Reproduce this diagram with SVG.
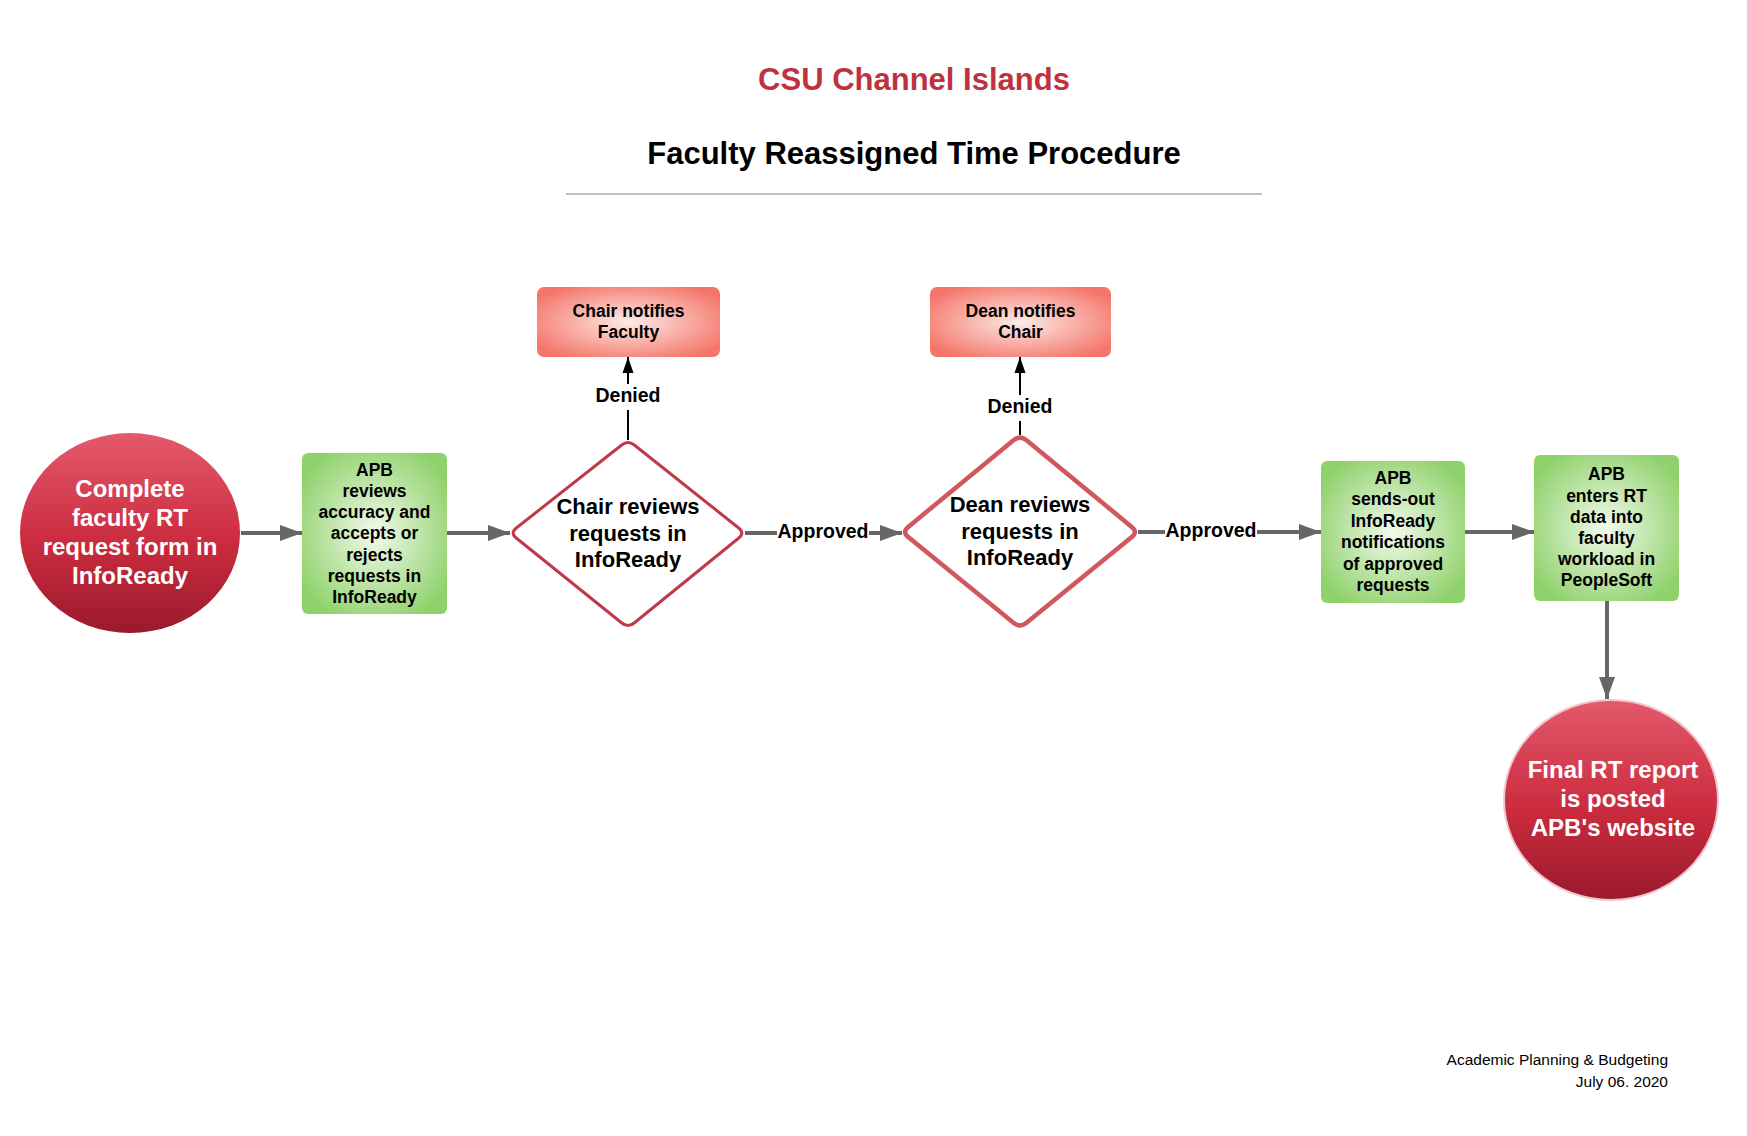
<svg xmlns="http://www.w3.org/2000/svg" width="1747" height="1136" viewBox="0 0 1747 1136">
<defs>
<style>
text{font-family:"Liberation Sans",Arial,sans-serif;}
.b{font-weight:bold;}
.wt{fill:#ffffff;font-weight:bold;font-size:24px;text-anchor:middle;}
.gt{fill:#000000;font-weight:bold;font-size:17.5px;text-anchor:middle;}
.dt{fill:#000000;font-weight:bold;font-size:22px;text-anchor:middle;}
.lbl{fill:#000000;font-weight:bold;font-size:19.5px;text-anchor:middle;}
.gbox{fill:url(#gGreen);}
.sbox{fill:url(#gSalmon);}
.conn{stroke:#666666;stroke-width:4;fill:none;}
.deny{stroke:#000000;stroke-width:2;fill:none;}
</style>
<linearGradient id="gRed" x1="0" y1="0" x2="0" y2="1">
<stop offset="0" stop-color="#e3596b"/>
<stop offset="0.55" stop-color="#cb2b3e"/>
<stop offset="1" stop-color="#991a2c"/>
</linearGradient>
<radialGradient id="gGreen" cx="0.5" cy="0.5" r="0.6">
<stop offset="0" stop-color="#f2faec"/>
<stop offset="1" stop-color="#8fd16b"/>
</radialGradient>
<radialGradient id="gSalmon" cx="0.5" cy="0.5" r="0.6">
<stop offset="0" stop-color="#fdebe7"/>
<stop offset="1" stop-color="#f4766a"/>
</radialGradient>
<marker id="aGrey" markerUnits="userSpaceOnUse" markerWidth="24" markerHeight="18" viewBox="0 0 24 18" refX="22" refY="9" orient="auto">
<path d="M0,1 L22,9 L0,17 Z" fill="#666666"/>
</marker>
<marker id="aBlack" markerUnits="userSpaceOnUse" markerWidth="18" markerHeight="14" viewBox="0 0 18 14" refX="16" refY="7" orient="auto">
<path d="M0,1.5 L16,7 L0,12.5 Z" fill="#000000"/>
</marker>
</defs>
<rect width="1747" height="1136" fill="#ffffff"/>

<g id="header">
<text x="914" y="90" class="b" font-size="31" fill="#c0313f" text-anchor="middle">CSU Channel Islands</text>
<text x="914" y="164" class="b" font-size="31" fill="#000000" text-anchor="middle">Faculty Reassigned Time Procedure</text>
<line x1="566" y1="194" x2="1262" y2="194" stroke="#aaaaaa" stroke-width="1.5"/>
</g>

<g id="connectors">
<line class="conn" x1="241" y1="533" x2="302" y2="533" marker-end="url(#aGrey)"/>
<line class="conn" x1="447" y1="533" x2="510" y2="533" marker-end="url(#aGrey)"/>
<line class="conn" x1="745" y1="533" x2="902" y2="533" marker-end="url(#aGrey)"/>
<line class="conn" x1="1138" y1="532" x2="1321" y2="532" marker-end="url(#aGrey)"/>
<line class="conn" x1="1465" y1="532" x2="1534" y2="532" marker-end="url(#aGrey)"/>
<line class="conn" x1="1607" y1="601" x2="1607" y2="699" marker-end="url(#aGrey)"/>
<line class="deny" x1="628" y1="440" x2="628" y2="357" marker-end="url(#aBlack)"/>
<line class="deny" x1="1020" y1="435" x2="1020" y2="357" marker-end="url(#aBlack)"/>
<rect x="596" y="384" width="64" height="26" fill="#ffffff"/>
<text class="lbl" x="628" y="402">Denied</text>
<rect x="988" y="395" width="64" height="26" fill="#ffffff"/>
<text class="lbl" x="1020" y="413">Denied</text>
<rect x="777" y="520" width="92" height="24" fill="#ffffff"/>
<text class="lbl" x="823" y="538">Approved</text>
<rect x="1165" y="519" width="92" height="24" fill="#ffffff"/>
<text class="lbl" x="1211" y="537">Approved</text>
</g>

<g id="start">
<ellipse cx="130" cy="533" rx="110" ry="100" fill="url(#gRed)"/>
<text class="wt" x="130" y="497">Complete</text>
<text class="wt" x="130" y="526">faculty RT</text>
<text class="wt" x="130" y="555">request form in</text>
<text class="wt" x="130" y="584">InfoReady</text>
</g>

<g id="apb-review">
<rect class="gbox" x="302" y="453" width="145" height="161" rx="6"/>
<text class="gt" x="374.5" y="475.5">APB</text>
<text class="gt" x="374.5" y="496.8">reviews</text>
<text class="gt" x="374.5" y="518.1">accuracy and</text>
<text class="gt" x="374.5" y="539.4">accepts or</text>
<text class="gt" x="374.5" y="560.7">rejects</text>
<text class="gt" x="374.5" y="582">requests in</text>
<text class="gt" x="374.5" y="603.3">InfoReady</text>
</g>

<g id="chair-review">
<path d="M634.3,445 L738.7,528 Q745,533 738.8,538 L634.2,623 Q628,628 621.8,623 L516.2,538 Q510,533 516.3,528 L621.7,445 Q628,440 634.3,445 Z" fill="#ffffff" stroke="#c0394a" stroke-width="3"/>
<text class="dt" x="628" y="514">Chair reviews</text>
<text class="dt" x="628" y="541">requests in</text>
<text class="dt" x="628" y="567">InfoReady</text>
</g>

<g id="chair-notifies">
<rect class="sbox" x="537" y="287" width="183" height="70" rx="7"/>
<text class="gt" x="628.5" y="317">Chair notifies</text>
<text class="gt" x="628.5" y="338">Faculty</text>
</g>

<g id="dean-review">
<path d="M1026.2,440.1 L1131.8,526.9 Q1138,532 1131.8,537 L1026.2,623 Q1020,628 1013.8,623 L908.2,537 Q902,532 908.2,526.9 L1013.8,440.1 Q1020,435 1026.2,440.1 Z" fill="#ffffff" stroke="#d0575c" stroke-width="4.5"/>
<text class="dt" x="1020" y="512">Dean reviews</text>
<text class="dt" x="1020" y="539">requests in</text>
<text class="dt" x="1020" y="565">InfoReady</text>
</g>

<g id="dean-notifies">
<rect class="sbox" x="930" y="287" width="181" height="70" rx="7"/>
<text class="gt" x="1020.5" y="317">Dean notifies</text>
<text class="gt" x="1020.5" y="338">Chair</text>
</g>

<g id="apb-notify">
<rect class="gbox" x="1321" y="461" width="144" height="142" rx="6"/>
<text class="gt" x="1393" y="483.5">APB</text>
<text class="gt" x="1393" y="505">sends-out</text>
<text class="gt" x="1393" y="526.5">InfoReady</text>
<text class="gt" x="1393" y="548">notifications</text>
<text class="gt" x="1393" y="569.5">of approved</text>
<text class="gt" x="1393" y="590.5">requests</text>
</g>

<g id="apb-enter">
<rect class="gbox" x="1534" y="455" width="145" height="146" rx="6"/>
<text class="gt" x="1606.5" y="480">APB</text>
<text class="gt" x="1606.5" y="501.5">enters RT</text>
<text class="gt" x="1606.5" y="522.5">data into</text>
<text class="gt" x="1606.5" y="543.5">faculty</text>
<text class="gt" x="1606.5" y="565">workload in</text>
<text class="gt" x="1606.5" y="586">PeopleSoft</text>
</g>

<g id="end">
<ellipse cx="1611" cy="800" rx="107" ry="100" fill="url(#gRed)" stroke="#f2c6cd" stroke-width="2"/>
<text class="wt" x="1613" y="778">Final RT report</text>
<text class="wt" x="1613" y="807">is posted</text>
<text class="wt" x="1613" y="836">APB's website</text>
</g>

<g id="footer">
<text x="1668" y="1065" font-size="15.5" fill="#000000" text-anchor="end">Academic Planning &amp; Budgeting</text>
<text x="1668" y="1087" font-size="15.5" fill="#000000" text-anchor="end">July 06. 2020</text>
</g>
</svg>
